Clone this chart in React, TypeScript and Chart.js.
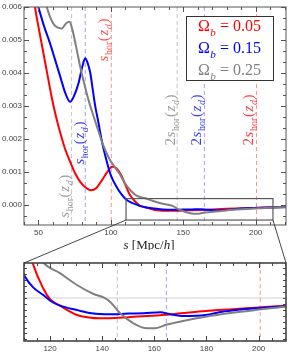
import React, { useEffect, useRef } from "react";
import { Chart, registerables } from "chart.js";
Chart.register(...registerables);

// ---------------- data ----------------
const RED_S = [44, 47.6, 50, 53, 56, 59, 62, 65, 68.4, 72, 75.4, 79, 83, 86.5, 90, 93.9, 97.5, 100.8, 104, 107, 110, 113, 117.4, 120, 123.8, 130.3, 135, 139, 145, 150, 162, 170, 179.6, 190, 198.8, 210.4, 222];
const RED_V = [0.0072, 0.006, 0.0054, 0.0047, 0.004, 0.0033, 0.0027, 0.0022, 0.0017, 0.0013, 0.00096, 0.0007, 0.00052, 0.00045, 0.00052, 0.00076, 0.001, 0.00116, 0.00111, 0.00092, 0.00062, 0.00032, 0.00008, -0.00001, -0.000065, -0.000144, -0.000165, -0.000172, -0.00017, -0.000162, -0.000146, -0.00013, -0.00011, -0.000095, -0.000082, -0.000065, -0.00005];

const BLUE_S = [46, 49.9, 54, 58, 61.5, 65, 68.5, 71.9, 74.5, 77.7, 80.3, 82.3, 84, 85.8, 87.5, 89.2, 91, 94, 97, 100, 104, 107, 110.4, 113.5, 117.4, 120.5, 123.8, 130.3, 136, 143, 150, 155.9, 162.3, 166.2, 171.3, 179.6, 186, 192, 198.8, 210.4, 222];
const BLUE_V = [0.0066, 0.006, 0.0054, 0.0049, 0.0044, 0.0039, 0.0034, 0.00313, 0.0033, 0.0037, 0.0042, 0.00445, 0.0043, 0.004, 0.0035, 0.003, 0.0026, 0.0019, 0.00135, 0.0009, 0.00055, 0.00035, 0.00018, 0.00009, 0.000025, -0.00003, -0.000065, -0.000102, -0.00013, -0.000138, -0.000132, -0.000129, -0.000121, -0.000138, -0.000152, -0.000144, -0.000116, -0.0001, -0.000087, -0.00007, -0.000055];

const GRAY_S = [52, 55.7, 58, 60.5, 63, 66.1, 69, 71.4, 73.5, 76, 78.8, 81.5, 84.6, 88, 91, 94, 97, 100, 102, 106, 110, 114, 117.4, 123.8, 130.3, 136.7, 140.5, 143, 146.9, 152, 157.2, 160.4, 164.8, 172, 179.6, 190, 198.8, 210.4, 222];
const GRAY_V = [0.0066, 0.006, 0.0057, 0.00548, 0.00538, 0.00535, 0.0055, 0.00555, 0.0053, 0.0048, 0.0042, 0.0037, 0.00318, 0.0027, 0.0023, 0.0019, 0.00158, 0.00132, 0.0012, 0.00095, 0.00065, 0.00043, 0.0003, 0.00021, 0.00011, 0.000034, 0.000006, -0.000031, -0.000129, -0.000214, -0.000256, -0.000256, -0.000225, -0.00019, -0.000158, -0.000125, -0.000102, -0.000074, -0.00006];

// sound horizon at drag epoch for each model (Mpc/h)
const SHOR_RED = 100.3;
const SHOR_BLUE = 82.3;
const SHOR_GRAY = 72.9;

const OMEGA_B = ["0.05", "0.15", "0.25"];
const MAIN_X_TICKS = [50, 100, 150, 200];
const MAIN_Y_TICKS = [0, 0.001, 0.002, 0.003, 0.004, 0.005, 0.006];
const INSET_X_TICKS = [120, 140, 160, 180, 200];

const MAIN_X_RANGE = [40, 221];
const MAIN_Y_RANGE = [-0.0006, 0.006];
const INSET_X_RANGE = [110, 210.5];
const INSET_Y_RANGE = [-0.000364, 0.000296];
const ZOOM_BOX_X = [110.5, 212];
const ZOOM_BOX_Y = [-0.00045, 0.0002];

// ---------------- styles ----------------
const RED = "#ff0000";
const BLUE = "#0000ff";
const GRAY = "#808080";
const SERIF = '"Liberation Serif", "DejaVu Serif", serif';
const SANS = '"Liberation Sans", Arial, sans-serif';
const W = 307;
const MAIN_H = 250;
const INSET_TOP = 250;
const INSET_H = 108;

type Seg = { t: string; italic?: boolean; sub?: boolean };

function segFont(s: Seg, size: number) {
  const sz = s.sub ? Math.round(size * 0.68) : size;
  return `${s.italic ? "italic " : ""}${sz}px ${SERIF}`;
}

function drawRich(ctx: CanvasRenderingContext2D, segs: Seg[], cx: number, cy: number, size: number, color: string, angle: number, gap = 0.6) {
  ctx.save();
  ctx.translate(cx, cy);
  ctx.rotate(angle);
  ctx.fillStyle = color;
  ctx.textBaseline = "alphabetic";
  ctx.textAlign = "left";
  const widths = segs.map((s) => {
    ctx.font = segFont(s, size);
    return ctx.measureText(s.t).width;
  });
  const total = widths.reduce((a, b) => a + b, 0) + gap * (segs.length - 1);
  let x = -total / 2;
  const base = size * 0.33;
  segs.forEach((s, i) => {
    ctx.font = segFont(s, size);
    ctx.fillText(s.t, x, base + (s.sub ? size * 0.27 : 0));
    x += widths[i] + gap;
  });
  ctx.restore();
}

const shorSegs = (two: boolean): Seg[] => [
  ...(two ? [{ t: "2" }] : []),
  { t: "s", italic: true },
  { t: "hor", sub: true },
  { t: "(" },
  { t: "z", italic: true },
  { t: "d", italic: true, sub: true },
  { t: ")" },
];

function mkDataset(s: number[], v: number[], color: string, order: number) {
  return {
    data: s.map((x, i) => ({ x, y: v[i] })),
    borderColor: color,
    backgroundColor: color,
    borderWidth: 2,
    pointRadius: 0,
    fill: false,
    cubicInterpolationMode: "monotone" as const,
    order,
  };
}

function dashedV(chart: any, value: number, color: string) {
  const { ctx, chartArea: a, scales } = chart;
  const px = scales.x.getPixelForValue(value);
  if (px < a.left || px > a.right) return;
  ctx.save();
  ctx.strokeStyle = color;
  ctx.lineWidth = 1;
  ctx.setLineDash([4, 3]);
  ctx.beginPath();
  ctx.moveTo(px, a.top);
  ctx.lineTo(px, a.bottom);
  ctx.stroke();
  ctx.restore();
}

function drawFrameTicks(chart: any, xs: { v: number; major: boolean }[], ys: { v: number; major: boolean }[], frameW: number, color: string) {
  const { ctx, chartArea: a, scales } = chart;
  ctx.save();
  ctx.strokeStyle = color;
  ctx.lineWidth = 1;
  ctx.beginPath();
  for (const t of xs) {
    const px = Math.round(scales.x.getPixelForValue(t.v)) + 0.5;
    if (px < a.left || px > a.right) continue;
    const L = t.major ? 5 : 3;
    ctx.moveTo(px, a.bottom);
    ctx.lineTo(px, a.bottom - L);
    ctx.moveTo(px, a.top);
    ctx.lineTo(px, a.top + L);
  }
  for (const t of ys) {
    const py = Math.round(scales.y.getPixelForValue(t.v)) + 0.5;
    if (py < a.top || py > a.bottom) continue;
    const L = t.major ? 5 : 3;
    ctx.moveTo(a.left, py);
    ctx.lineTo(a.left + L, py);
    ctx.moveTo(a.right, py);
    ctx.lineTo(a.right - L, py);
  }
  ctx.stroke();
  ctx.lineWidth = frameW;
  ctx.strokeRect(a.left, a.top, a.right - a.left, a.bottom - a.top);
  ctx.restore();
}

const mainDecor = {
  id: "mainDecor",
  beforeDatasetsDraw(chart: any) {
    const { scales } = chart;
    dashedV(chart, SHOR_GRAY, "#c4c4c4");
    dashedV(chart, SHOR_BLUE, "#a0a0ff");
    dashedV(chart, SHOR_RED, "#ff9090");
    dashedV(chart, 2 * SHOR_GRAY, "#c4c4c4");
    dashedV(chart, 2 * SHOR_BLUE, "#a0a0ff");
    dashedV(chart, 2 * SHOR_RED, "#ff9090");
    const ctx = chart.ctx;
    const X = (v: number) => scales.x.getPixelForValue(v);
    const Y = (v: number) => scales.y.getPixelForValue(v);
    const up = -Math.PI / 2;
    drawRich(ctx, shorSegs(false), X(SHOR_RED) - 8, Y(0.005), 15, "#ff4d4d", up);
    drawRich(ctx, shorSegs(false), X(SHOR_BLUE) - 6, Y(0.00188), 15, "#3a3aff", up);
    drawRich(ctx, shorSegs(false), X(SHOR_GRAY) - 8, Y(0.00027), 15, "#9a9a9a", up);
    drawRich(ctx, shorSegs(true), X(2 * SHOR_GRAY) - 7, Y(0.00258), 15, "#9a9a9a", up);
    drawRich(ctx, shorSegs(true), X(2 * SHOR_BLUE) - 8, Y(0.00258), 15, "#3a3aff", up);
    drawRich(ctx, shorSegs(true), X(2 * SHOR_RED) - 8, Y(0.00258), 15, "#ff3a3a", up);
  },
  afterDatasetsDraw(chart: any) {
    const { ctx, chartArea: a, scales } = chart;
    // zoom box
    const x0 = scales.x.getPixelForValue(ZOOM_BOX_X[0]);
    const x1 = scales.x.getPixelForValue(ZOOM_BOX_X[1]);
    const y0 = scales.y.getPixelForValue(ZOOM_BOX_Y[1]);
    const y1 = scales.y.getPixelForValue(ZOOM_BOX_Y[0]);
    ctx.save();
    ctx.strokeStyle = "#5a5a5a";
    ctx.lineWidth = 1.2;
    ctx.strokeRect(x0, y0, x1 - x0, y1 - y0);
    ctx.restore();
    // legend
    const lx = a.left + 162, ly = a.top + 9, lw = 87, lh = 64;
    ctx.save();
    ctx.fillStyle = "#ffffff";
    ctx.fillRect(lx, ly, lw, lh);
    ctx.strokeStyle = "#333";
    ctx.lineWidth = 1;
    ctx.strokeRect(lx + 0.5, ly + 0.5, lw, lh);
    ctx.restore();
    const colors = [RED, BLUE, GRAY];
    OMEGA_B.forEach((val, i) => {
      drawRich(ctx, [{ t: "Ω" }, { t: "b", italic: true, sub: true }, { t: " = " + val }], lx + lw / 2, ly + 10 + i * 22, 16, colors[i], 0, 0.3);
    });
  },
  afterDraw(chart: any) {
    const xs: { v: number; major: boolean }[] = [];
    for (let v = 40; v <= 220; v += 10) xs.push({ v, major: v % 50 === 0 });
    const ys: { v: number; major: boolean }[] = [];
    const step = 0.001 / 3;
    for (let k = -1; k <= 18; k++) ys.push({ v: k * step, major: k % 3 === 0 });
    drawFrameTicks(chart, xs, ys, 1, "#555");
    const a = chart.chartArea;
    drawRich(chart.ctx, [{ t: "s", italic: true }, { t: " [Mpc/" }, { t: "h", italic: true }, { t: "]" }], (a.left + a.right) / 2 - 6, a.bottom + 20, 13, "#222", 0, 0);
  },
};

const insetDecor = {
  id: "insetDecor",
  beforeDatasetsDraw(chart: any) {
    const { ctx, chartArea: a, scales } = chart;
    const py = scales.y.getPixelForValue(0);
    ctx.save();
    ctx.strokeStyle = "#d0d0d0";
    ctx.lineWidth = 1;
    ctx.beginPath();
    ctx.moveTo(a.left, py);
    ctx.lineTo(a.right, py);
    ctx.stroke();
    ctx.restore();
    dashedV(chart, 2 * SHOR_GRAY, "#c4c4c4");
    dashedV(chart, 2 * SHOR_BLUE, "#a0a0ff");
    dashedV(chart, 2 * SHOR_RED, "#ff9090");
  },
  afterDraw(chart: any) {
    const xs: { v: number; major: boolean }[] = [];
    for (let v = 110; v <= 210; v += 5) xs.push({ v, major: v % 20 === 0 });
    const ys: { v: number; major: boolean }[] = [];
    for (let k = -7; k <= 5; k++) ys.push({ v: k * 0.00005, major: false });
    drawFrameTicks(chart, xs, ys, 1.6, "#444");
  },
};

const tickFont = { family: SANS, size: 8 };

function mainConfig(): any {
  return {
    type: "line",
    data: {
      datasets: [mkDataset(RED_S, RED_V, RED, 2), mkDataset(BLUE_S, BLUE_V, BLUE, 1), mkDataset(GRAY_S, GRAY_V, GRAY, 0)],
    },
    options: {
      animation: false,
      responsive: false,
      devicePixelRatio: 1,
      events: [],
      layout: { padding: { top: 7, right: 21, left: 0, bottom: 0 } },
      plugins: { legend: { display: false }, tooltip: { enabled: false } },
      scales: {
        x: {
          type: "linear",
          min: MAIN_X_RANGE[0],
          max: MAIN_X_RANGE[1],
          grid: { display: false, drawTicks: false },
          border: { display: false },
          afterBuildTicks: (s: any) => {
            s.ticks = MAIN_X_TICKS.map((v) => ({ value: v }));
          },
          afterFit: (s: any) => {
            s.height = 25;
          },
          ticks: { font: tickFont, color: "#444", padding: 3, maxRotation: 0, autoSkip: false, callback: (v: any) => String(v) },
        },
        y: {
          type: "linear",
          min: MAIN_Y_RANGE[0],
          max: MAIN_Y_RANGE[1],
          grid: { display: false, drawTicks: false },
          border: { display: false },
          afterBuildTicks: (s: any) => {
            s.ticks = MAIN_Y_TICKS.map((v) => ({ value: v }));
          },
          afterFit: (s: any) => {
            s.width = 24;
          },
          ticks: { font: tickFont, color: "#444", padding: 2, autoSkip: false, callback: (v: any) => Number(v).toFixed(3) },
        },
      },
    },
    plugins: [mainDecor],
  };
}

function insetConfig(): any {
  return {
    type: "line",
    data: {
      datasets: [mkDataset(RED_S, RED_V, RED, 2), mkDataset(BLUE_S, BLUE_V, BLUE, 1), mkDataset(GRAY_S, GRAY_V, GRAY, 0)],
    },
    options: {
      animation: false,
      responsive: false,
      devicePixelRatio: 1,
      events: [],
      layout: { padding: { top: 13, right: 21, left: 0, bottom: 0 } },
      plugins: { legend: { display: false }, tooltip: { enabled: false } },
      scales: {
        x: {
          type: "linear",
          min: INSET_X_RANGE[0],
          max: INSET_X_RANGE[1],
          grid: { display: false, drawTicks: false },
          border: { display: false },
          afterBuildTicks: (s: any) => {
            s.ticks = INSET_X_TICKS.map((v) => ({ value: v }));
          },
          afterFit: (s: any) => {
            s.height = 17;
          },
          ticks: { font: tickFont, color: "#444", padding: 3, maxRotation: 0, autoSkip: false, callback: (v: any) => String(v) },
        },
        y: {
          type: "linear",
          min: INSET_Y_RANGE[0],
          max: INSET_Y_RANGE[1],
          grid: { display: false, drawTicks: false },
          border: { display: false },
          afterFit: (s: any) => {
            s.width = 24;
          },
          ticks: { display: false },
        },
      },
    },
    plugins: [insetDecor],
  };
}

export default function App() {
  const mainRef = useRef<HTMLCanvasElement>(null);
  const insetRef = useRef<HTMLCanvasElement>(null);
  const overRef = useRef<HTMLCanvasElement>(null);

  useEffect(() => {
    document.body.style.margin = "0";
    const main = new Chart(mainRef.current as HTMLCanvasElement, mainConfig());
    const inset = new Chart(insetRef.current as HTMLCanvasElement, insetConfig());
    const ctx = (overRef.current as HTMLCanvasElement).getContext("2d") as CanvasRenderingContext2D;
    ctx.clearRect(0, 0, W, MAIN_H + INSET_H);
    const mx = main.scales.x as any;
    const my = main.scales.y as any;
    const ia = inset.chartArea;
    const blx = mx.getPixelForValue(ZOOM_BOX_X[0]);
    const brx = mx.getPixelForValue(ZOOM_BOX_X[1]);
    const by = my.getPixelForValue(ZOOM_BOX_Y[0]);
    ctx.save();
    ctx.strokeStyle = "#333";
    ctx.lineWidth = 0.9;
    ctx.beginPath();
    ctx.moveTo(blx, by);
    ctx.lineTo(ia.left, ia.top + INSET_TOP);
    ctx.moveTo(brx, by);
    ctx.lineTo(ia.right, ia.top + INSET_TOP);
    ctx.stroke();
    ctx.restore();
    return () => {
      main.destroy();
      inset.destroy();
    };
  }, []);

  return (
    <div style={{ position: "relative", width: W, height: MAIN_H + INSET_H, background: "#fff" }}>
      <canvas ref={mainRef} width={W} height={MAIN_H} style={{ position: "absolute", left: 0, top: 0 }} />
      <canvas ref={insetRef} width={W} height={INSET_H} style={{ position: "absolute", left: 0, top: INSET_TOP }} />
      <canvas ref={overRef} width={W} height={MAIN_H + INSET_H} style={{ position: "absolute", left: 0, top: 0, pointerEvents: "none" }} />
    </div>
  );
}
